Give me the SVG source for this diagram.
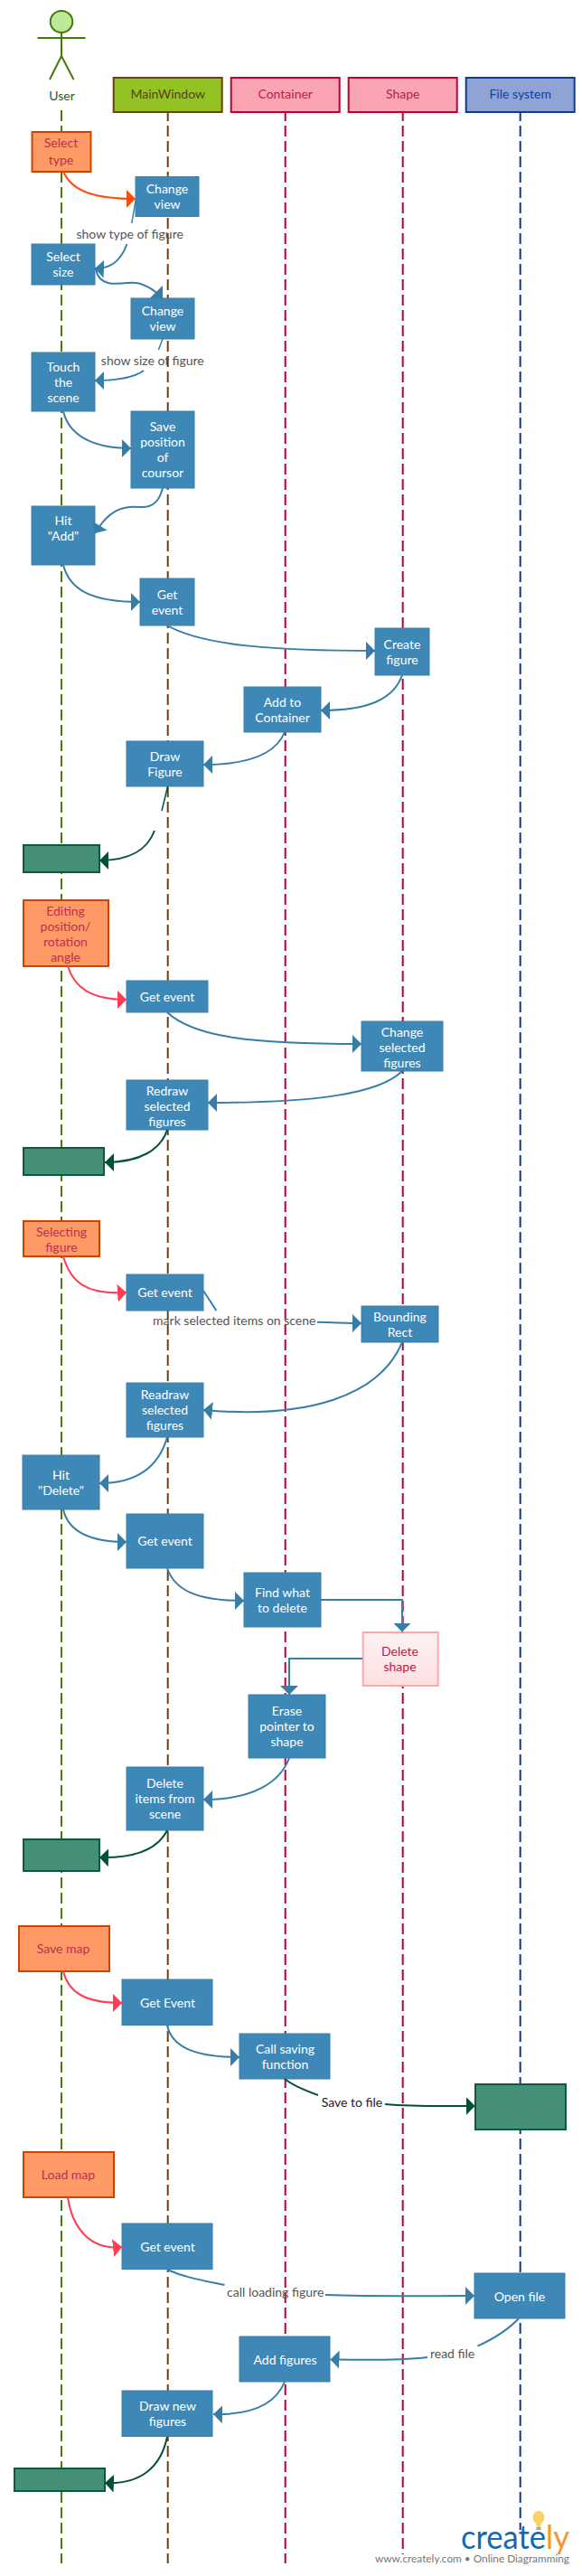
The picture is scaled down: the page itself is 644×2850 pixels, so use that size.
<svg xmlns="http://www.w3.org/2000/svg" width="644" height="2850" viewBox="0 0 644 2850">
<style>
text{font-family:Lato,"Liberation Sans",sans-serif;font-size:14px;text-anchor:middle}
.b rect{fill:#3e88b8;stroke:#3a7fa8;stroke-width:1}
.b text{fill:#fff}
.o rect{fill:#ff9966;stroke:#cf4400;stroke-width:2}
.o text{fill:#b8324f}
.g rect{fill:#458f78;stroke:#0b5a3e;stroke-width:2}
.h rect{stroke-width:2}
.l{fill:none;stroke-width:2;stroke-dasharray:12 5}
.c{fill:none;stroke-width:2}
.cb{stroke:#367ea8}.cr{stroke:#ff3d55}.cg{stroke:#00513a}.co{stroke:#ff4d0d}
.lb{fill:#555}
.t{stroke-width:1.5}
</style>
<defs>
<marker id="ab" markerUnits="userSpaceOnUse" markerWidth="10" markerHeight="20" refX="10" refY="10" orient="auto" viewBox="0 0 10 20"><polygon points="0,0 10,10 0,20" fill="#367ea8"/></marker>
<marker id="ar" markerUnits="userSpaceOnUse" markerWidth="10" markerHeight="20" refX="10" refY="10" orient="auto" viewBox="0 0 10 20"><polygon points="0,0 10,10 0,20" fill="#ff3d55"/></marker>
<marker id="ag" markerUnits="userSpaceOnUse" markerWidth="10" markerHeight="20" refX="10" refY="10" orient="auto" viewBox="0 0 10 20"><polygon points="0,0 10,10 0,20" fill="#00513a"/></marker>
<marker id="ao" markerUnits="userSpaceOnUse" markerWidth="10" markerHeight="20" refX="10" refY="10" orient="auto" viewBox="0 0 10 20"><polygon points="0,0 10,10 0,20" fill="#ff4d0d"/></marker>
<linearGradient id="pk" x1="0" y1="0" x2="0" y2="1"><stop offset="0" stop-color="#faf2f3"/><stop offset="1" stop-color="#ffdfe2"/></linearGradient>
</defs>

<g id="lifelines">
<line class="l" x1="68" y1="122" x2="68" y2="2836" stroke="#4a7a0c"/>
<line class="l" x1="185.7" y1="122" x2="185.7" y2="2836" stroke="#6b4010"/>
<line class="l" x1="315.7" y1="122" x2="315.7" y2="2836" stroke="#bb0033"/>
<line class="l" x1="445.7" y1="122" x2="445.7" y2="2826" stroke="#bb0033"/>
<line class="l" x1="575.7" y1="122" x2="575.7" y2="2799" stroke="#0a3d91"/>
</g>

<g id="actor-user" fill="none" stroke="#457a0a" stroke-width="2">
<ellipse cx="68" cy="24" rx="12.3" ry="12" fill="#bde897"/>
<line x1="41.5" y1="42" x2="94.5" y2="42"/>
<line x1="68" y1="36" x2="68" y2="62"/>
<path d="M55,88 L68,62 L81.5,88"/>
<text x="68.5" y="111" fill="#2f5a2a" stroke="none">User</text>
</g>
<g id="h-main" class="h"><rect x="125.7" y="86" width="120" height="38" fill="#93c223" stroke="#6b4010"/><text x="185.7" y="109" fill="#54451a">MainWindow</text></g>
<g id="h-container" class="h"><rect x="255.7" y="86" width="120" height="38" fill="#fba4b4" stroke="#bb0033"/><text x="315.7" y="109" fill="#b3244a">Container</text></g>
<g id="h-shape" class="h"><rect x="385.7" y="86" width="120" height="38" fill="#fba4b4" stroke="#bb0033"/><text x="445.7" y="109" fill="#b3244a">Shape</text></g>
<g id="h-file" class="h"><rect x="515.7" y="86" width="120" height="38" fill="#8fa3d4" stroke="#0a3d91"/><text x="575.7" y="109" fill="#143f9a">File system</text></g>

<g id="n1" class="o"><rect x="35.5" y="146" width="65" height="44"/><text x="67.5" y="163">Select</text><text x="67.5" y="182">type</text></g>
<g id="n2" class="b"><rect x="150" y="195.5" width="70" height="44"/><text x="185" y="214">Change</text><text x="185" y="231">view</text></g>
<g id="n3" class="b"><rect x="35" y="270" width="70" height="45"/><text x="70" y="289">Select</text><text x="70" y="306">size</text></g>
<g id="n4" class="b"><rect x="145" y="330" width="70" height="45"/><text x="180" y="349">Change</text><text x="180" y="366">view</text></g>
<g id="n5" class="b"><rect x="35" y="390" width="70" height="65"/><text x="70" y="411">Touch</text><text x="70" y="428">the</text><text x="70" y="445">scene</text></g>
<g id="n6" class="b"><rect x="145" y="455" width="70" height="85"/><text x="180" y="477">Save</text><text x="180" y="494">position</text><text x="180" y="511">of</text><text x="180" y="528">coursor</text></g>
<g id="n7" class="b"><rect x="35" y="560" width="70" height="65"/><text x="70" y="581">Hit</text><text x="70" y="598">"Add"</text></g>
<g id="n8" class="b"><rect x="155" y="640" width="60" height="52"/><text x="185" y="663">Get</text><text x="185" y="680">event</text></g>
<g id="n9" class="b"><rect x="415" y="695" width="60" height="52"/><text x="445" y="718">Create</text><text x="445" y="735">figure</text></g>
<g id="n10" class="b"><rect x="270" y="760" width="85" height="50"/><text x="312.5" y="782">Add to</text><text x="312.5" y="799">Container</text></g>
<g id="n11" class="b"><rect x="140" y="820" width="85" height="50"/><text x="182.5" y="842">Draw</text><text x="182.5" y="859">Figure</text></g>
<g id="n12" class="g"><rect x="26" y="935" width="84" height="30"/></g>
<g id="n13" class="o"><rect x="26" y="996" width="94" height="73"/><text x="72.5" y="1012.5">Editing</text><text x="72.5" y="1029.5">position/</text><text x="72.5" y="1046.5">rotation</text><text x="72.5" y="1063.5">angle</text></g>
<g id="n14" class="b"><rect x="140" y="1085" width="90" height="35"/><text x="185" y="1108">Get event</text></g>
<g id="n15" class="b"><rect x="400" y="1130" width="90" height="55"/><text x="445" y="1146.5">Change</text><text x="445" y="1163.5">selected</text><text x="445" y="1180.5">figures</text></g>
<g id="n16" class="b"><rect x="140" y="1195" width="90" height="55"/><text x="185" y="1211.5">Redraw</text><text x="185" y="1228.5">selected</text><text x="185" y="1245.5">figures</text></g>
<g id="n17" class="g"><rect x="26" y="1270" width="89" height="30"/></g>
<g id="n18" class="o"><rect x="26" y="1351" width="84" height="39"/><text x="68" y="1367.5">Selecting</text><text x="68" y="1384.5">figure</text></g>
<g id="n19" class="b"><rect x="140" y="1410" width="85" height="40"/><text x="182.5" y="1435">Get event</text></g>
<g id="n20" class="b"><rect x="400" y="1445" width="85" height="40"/><text x="442.5" y="1462">Bounding</text><text x="442.5" y="1479">Rect</text></g>
<g id="n21" class="b"><rect x="140" y="1530" width="85" height="60"/><text x="182.5" y="1548">Readraw</text><text x="182.5" y="1565">selected</text><text x="182.5" y="1582">figures</text></g>
<g id="n22" class="b"><rect x="25" y="1610" width="85" height="60"/><text x="67.5" y="1637">Hit</text><text x="67.5" y="1654">"Delete"</text></g>
<g id="n23" class="b"><rect x="140" y="1675" width="85" height="60"/><text x="182.5" y="1710">Get event</text></g>
<g id="n24" class="b"><rect x="270" y="1740" width="85" height="60"/><text x="312.5" y="1767">Find what</text><text x="312.5" y="1784">to delete</text></g>
<g id="n25"><rect x="401.7" y="1806" width="83" height="59" fill="url(#pk)" stroke="#ffa5ad" stroke-width="2"/><text x="442.5" y="1832" fill="#b81d3c">Delete</text><text x="442.5" y="1849" fill="#b81d3c">shape</text></g>
<g id="n26" class="b"><rect x="275" y="1875" width="85" height="70"/><text x="317.5" y="1898">Erase</text><text x="317.5" y="1915">pointer to</text><text x="317.5" y="1932">shape</text></g>
<g id="n27" class="b"><rect x="140" y="1955" width="85" height="70"/><text x="182.5" y="1978">Delete</text><text x="182.5" y="1995">items from</text><text x="182.5" y="2012">scene</text></g>
<g id="n28" class="g"><rect x="26" y="2035" width="84" height="35"/></g>
<g id="n29" class="o"><rect x="21" y="2131" width="100" height="50"/><text x="70" y="2161">Save map</text></g>
<g id="n30" class="b"><rect x="135" y="2190" width="100" height="50.5"/><text x="185.5" y="2221">Get Event</text></g>
<g id="n31" class="b"><rect x="265" y="2250" width="100" height="50"/><text x="315.5" y="2272">Call saving</text><text x="315.5" y="2289">function</text></g>
<g id="n32" class="g"><rect x="526" y="2306" width="100" height="50"/></g>
<g id="n33" class="o"><rect x="26" y="2381" width="100" height="50"/><text x="75.5" y="2411">Load map</text></g>
<g id="n34" class="b"><rect x="135" y="2460" width="100" height="50.5"/><text x="185.5" y="2491">Get event</text></g>
<g id="n35" class="b"><rect x="525" y="2515" width="100" height="50"/><text x="575" y="2546">Open file</text></g>
<g id="n36" class="b"><rect x="265" y="2585" width="100" height="50"/><text x="315.5" y="2616">Add figures</text></g>
<g id="n37" class="b"><rect x="135" y="2645" width="100" height="50.5"/><text x="185.5" y="2667">Draw new</text><text x="185.5" y="2684">figures</text></g>
<g id="n38" class="g"><rect x="16" y="2731" width="100" height="25"/></g>

<g id="connectors">
<path class="c co" marker-end="url(#ao)" d="M70,190 C80,212 105,220 150,220"/>
<path class="c cb t" d="M150,222 L145.8,247"/>
<path class="c cb" marker-end="url(#ab)" d="M140.5,270 C135,285 125,298 105,297"/>
<path class="c cb" marker-end="url(#ab)" d="M106,298 C110,318 130,314 145,312.7 C158,312 170,320 180,330"/>
<path class="c cb t" d="M180,375 L175.4,387"/>
<path class="c cb" marker-end="url(#ab)" d="M159,410 C148,418 130,421 105,421"/>
<path class="c cb" marker-end="url(#ab)" d="M70,455 C76,480 100,496 145,496"/>
<path class="c cb" marker-end="url(#ab)" d="M180,540 C176,556 168,562 155,561 C135,559 120,565 105,590"/>
<path class="c cb" marker-end="url(#ab)" d="M70,625 C77,652 100,666 155,666"/>
<path class="c cb" marker-end="url(#ab)" d="M185,692 C225,715 310,720 415,720"/>
<path class="c cb" marker-end="url(#ab)" d="M445,747 C435,775 405,786 355,786"/>
<path class="c cb" marker-end="url(#ab)" d="M315,810 C305,835 275,846 225,846"/>
<path class="c cg t" d="M185.6,870 L179,897"/>
<path class="c cg" marker-end="url(#ag)" d="M171,919 C163,940 145,952 110,952"/>
<path class="c cr" marker-end="url(#ar)" d="M75,1069 C82,1092 100,1106 140,1106"/>
<path class="c cb" marker-end="url(#ab)" d="M185,1120 C215,1148 280,1155 400,1155"/>
<path class="c cb" marker-end="url(#ab)" d="M445,1185 C420,1210 350,1220 230,1220"/>
<path class="c cg" marker-end="url(#ag)" d="M185,1250 C178,1272 155,1286 116,1286"/>
<path class="c cr" marker-end="url(#ar)" d="M70,1390 C78,1418 95,1433 140,1430"/>
<path class="c cb" d="M225,1428 L239.4,1450"/>
<path class="c cb" marker-end="url(#ab)" d="M351,1462.7 C370,1463 385,1464 400,1464"/>
<path class="c cb" marker-end="url(#ab)" d="M445,1485 C420,1545 340,1570 225,1560"/>
<path class="c cb" marker-end="url(#ab)" d="M185,1590 C175,1625 150,1641 110,1641"/>
<path class="c cb" marker-end="url(#ab)" d="M70,1670 C75,1692 95,1706 140,1706"/>
<path class="c cb" marker-end="url(#ab)" d="M185,1735 C193,1758 215,1771 270,1771"/>
<path class="c cb" marker-end="url(#ab)" d="M355,1770 L445,1770 L445,1805.5"/>
<path class="c cb" marker-end="url(#ab)" d="M401,1835 L320,1835 L320,1875"/>
<path class="c cb" marker-end="url(#ab)" d="M320,1945 C310,1972 280,1991 225,1991"/>
<path class="c cg" marker-end="url(#ag)" d="M185,2025 C175,2045 150,2056 110,2055"/>
<path class="c cr" marker-end="url(#ar)" d="M70,2181 C76,2205 95,2216 135,2216"/>
<path class="c cb" marker-end="url(#ab)" d="M185,2241 C190,2262 210,2276 265,2276"/>
<path class="c cg" d="M315,2300 C325,2308 338,2313 352,2318"/>
<path class="c cg" marker-end="url(#ag)" d="M426,2328 C460,2331 490,2330 525.7,2330"/>
<path class="c cr" marker-end="url(#ar)" d="M75,2431 C80,2465 100,2490 135,2486"/>
<path class="c cb" d="M185,2511 C205,2520 225,2523 248.5,2528"/>
<path class="c cb" marker-end="url(#ab)" d="M360,2539 C420,2541 470,2540 525,2540"/>
<path class="c cb" d="M574,2565 C562,2578 545,2588 528.5,2595.7"/>
<path class="c cb" marker-end="url(#ab)" d="M473,2608 C440,2612 400,2611 365.5,2610.5"/>
<path class="c cb" marker-end="url(#ab)" d="M315,2635 C305,2660 280,2672 236,2671"/>
<path class="c cg" marker-end="url(#ag)" d="M185,2696 C178,2730 155,2749 116,2747"/>
</g>

<g id="labels">
<text class="lb" x="143.7" y="264">show type of figure</text>
<text class="lb" x="168.8" y="404">show size of figure</text>
<text class="lb" x="259.3" y="1466">mark selected items on scene</text>
<text x="389.5" y="2331" fill="#222">Save to file</text>
<text class="lb" x="304.7" y="2541">call loading figure</text>
<text class="lb" x="500.6" y="2609">read file</text>
</g>

<g id="logo">
<ellipse cx="596" cy="2785" rx="6.5" ry="7" fill="#f7d264"/>
<path d="M592,2789 L600,2789 L598,2796 L594,2796 Z" fill="#f7d264"/>
<rect x="593.5" y="2796" width="5" height="3" fill="#a9a9a9"/>
<text x="570" y="2820" textLength="120" lengthAdjust="spacingAndGlyphs" style="font-size:36px" fill="#1069b4">create<tspan fill="#f4962a">ly</tspan></text>
<text x="522.5" y="2835" textLength="215" lengthAdjust="spacingAndGlyphs" style="font-size:11.5px" fill="#777">www.creately.com • Online Diagramming</text>
</g>
</svg>
